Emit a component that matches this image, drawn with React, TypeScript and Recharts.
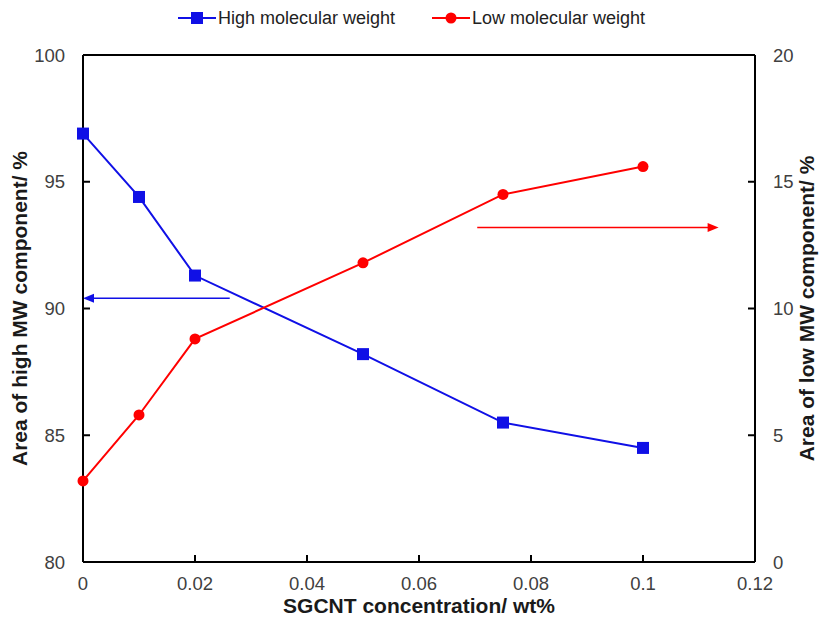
import { Label, Line, LineChart, ReferenceLine, XAxis, YAxis } from "recharts";

const concentration = [0, 0.01, 0.02, 0.05, 0.075, 0.1];
const highMw = [96.9, 94.4, 91.3, 88.2, 85.5, 84.5];
const lowMw = [3.2, 5.8, 8.8, 11.8, 14.5, 15.6];

const xTicks = [0, 0.02, 0.04, 0.06, 0.08, 0.1, 0.12];
const leftTicks = [80, 85, 90, 95, 100];
const rightTicks = [0, 5, 10, 15, 20];

// arrow hints: [x start, x end, y] on their own axis
const blueArrow = { from: 0.0262, to: 0, y: 90.4 };
const redArrow = { from: 0.0704, to: 0.1135, y: 13.2 };

const BLUE = "#1010e6";
const RED = "#ff0000";
const FONT = '"Liberation Sans", Arial, sans-serif';
const TICK_STYLE = { fontSize: 18.5, fill: "#404040", fontFamily: FONT };
const TICK_LINE = { stroke: "#000", strokeWidth: 2 };
const AXIS_LINE = { stroke: "#000", strokeWidth: 2 };
const TITLE_STYLE = { fontFamily: FONT, fontSize: 21, fontWeight: 700, fill: "#1a1a1a" };

const data = concentration.map((c, i) => ({ c, high: highMw[i], low: lowMw[i] }));

function Arrow(color: string) {
  return (props: any) => {
    const { x1, y1, x2, y2 } = props;
    const dir = x2 > x1 ? 1 : -1;
    return (
      <g>
        <line x1={x1} y1={y1} x2={x2 - dir * 8} y2={y2} stroke={color} strokeWidth={1.5} />
        <polygon points={`${x2},${y2} ${x2 - dir * 11},${y2 - 4.5} ${x2 - dir * 11},${y2 + 4.5}`} fill={color} />
      </g>
    );
  };
}

function SquareDot(props: any) {
  const { cx, cy } = props;
  return <rect x={cx - 6} y={cy - 6} width={12} height={12} fill={BLUE} />;
}

function CircleDot(props: any) {
  const { cx, cy } = props;
  return <circle cx={cx} cy={cy} r={5.5} fill={RED} />;
}

function LegendBox() {
  const item = (color: string, square: boolean, text: string, width: number) => (
    <div style={{ display: "flex", alignItems: "center", width }}>
      <svg width={38} height={14}>
        <line x1={0} x2={38} y1={7} y2={7} stroke={color} strokeWidth={2} />
        {square ? <rect x={13} y={1} width={12} height={12} fill={color} /> : <circle cx={19} cy={7} r={5.5} fill={color} />}
      </svg>
      <span style={{ marginLeft: 2 }}>{text}</span>
    </div>
  );
  return (
    <div
      style={{
        position: "absolute",
        top: 8,
        left: 0,
        display: "flex",
        paddingLeft: 178,
        fontFamily: FONT,
        fontSize: 18,
        lineHeight: "20px",
        color: "#222",
      }}
    >
      {item(BLUE, true, "High molecular weight", 254)}
      {item(RED, false, "Low molecular weight", 260)}
    </div>
  );
}

export default function App() {
  return (
    <div style={{ position: "relative", margin: -8, width: 829, height: 621, background: "#fff" }}>
      <LegendBox />
      <LineChart width={829} height={621} data={data} margin={{ top: 55, right: 14, bottom: 6, left: 11 }}>
        <XAxis
          dataKey="c"
          type="number"
          domain={[0, 0.12]}
          ticks={xTicks}
          tickFormatter={(v: number) => String(v)}
          height={53}
          tickSize={-7}
          tickMargin={22}
          tick={TICK_STYLE}
          tickLine={TICK_LINE}
          axisLine={AXIS_LINE}
        >
          <Label value="SGCNT concentration/ wt%" position="insideBottom" offset={2} style={TITLE_STYLE} />
        </XAxis>
        <YAxis
          yAxisId="left"
          domain={[80, 100]}
          ticks={leftTicks}
          width={72}
          tickSize={-7}
          tickMargin={25}
          tick={TICK_STYLE}
          tickLine={TICK_LINE}
          axisLine={AXIS_LINE}
        >
          <Label
            value="Area of high MW component/ %"
            angle={-90}
            position="insideLeft"
            offset={9}
            style={{ ...TITLE_STYLE, textAnchor: "middle" }}
          />
        </YAxis>
        <YAxis
          yAxisId="right"
          orientation="right"
          domain={[0, 20]}
          ticks={rightTicks}
          width={60}
          tickSize={-7}
          tickMargin={25}
          tick={TICK_STYLE}
          tickLine={TICK_LINE}
          axisLine={AXIS_LINE}
        >
          <Label
            value="Area of low MW component/ %"
            angle={-90}
            position="insideRight"
            offset={8}
            style={{ ...TITLE_STYLE, textAnchor: "middle" }}
          />
        </YAxis>
        <ReferenceLine yAxisId="left" y={100} stroke="#000" strokeWidth={2} />
        <ReferenceLine
          yAxisId="left"
          segment={[{ x: blueArrow.from, y: blueArrow.y }, { x: blueArrow.to, y: blueArrow.y }]}
          shape={Arrow(BLUE)}
        />
        <ReferenceLine
          yAxisId="right"
          segment={[{ x: redArrow.from, y: redArrow.y }, { x: redArrow.to, y: redArrow.y }]}
          shape={Arrow(RED)}
        />
        <Line
          yAxisId="left"
          dataKey="high"
          stroke={BLUE}
          strokeWidth={2}
          dot={<SquareDot />}
          activeDot={false}
          isAnimationActive={false}
        />
        <Line
          yAxisId="right"
          dataKey="low"
          stroke={RED}
          strokeWidth={2}
          dot={<CircleDot />}
          activeDot={false}
          isAnimationActive={false}
        />
      </LineChart>
    </div>
  );
}
